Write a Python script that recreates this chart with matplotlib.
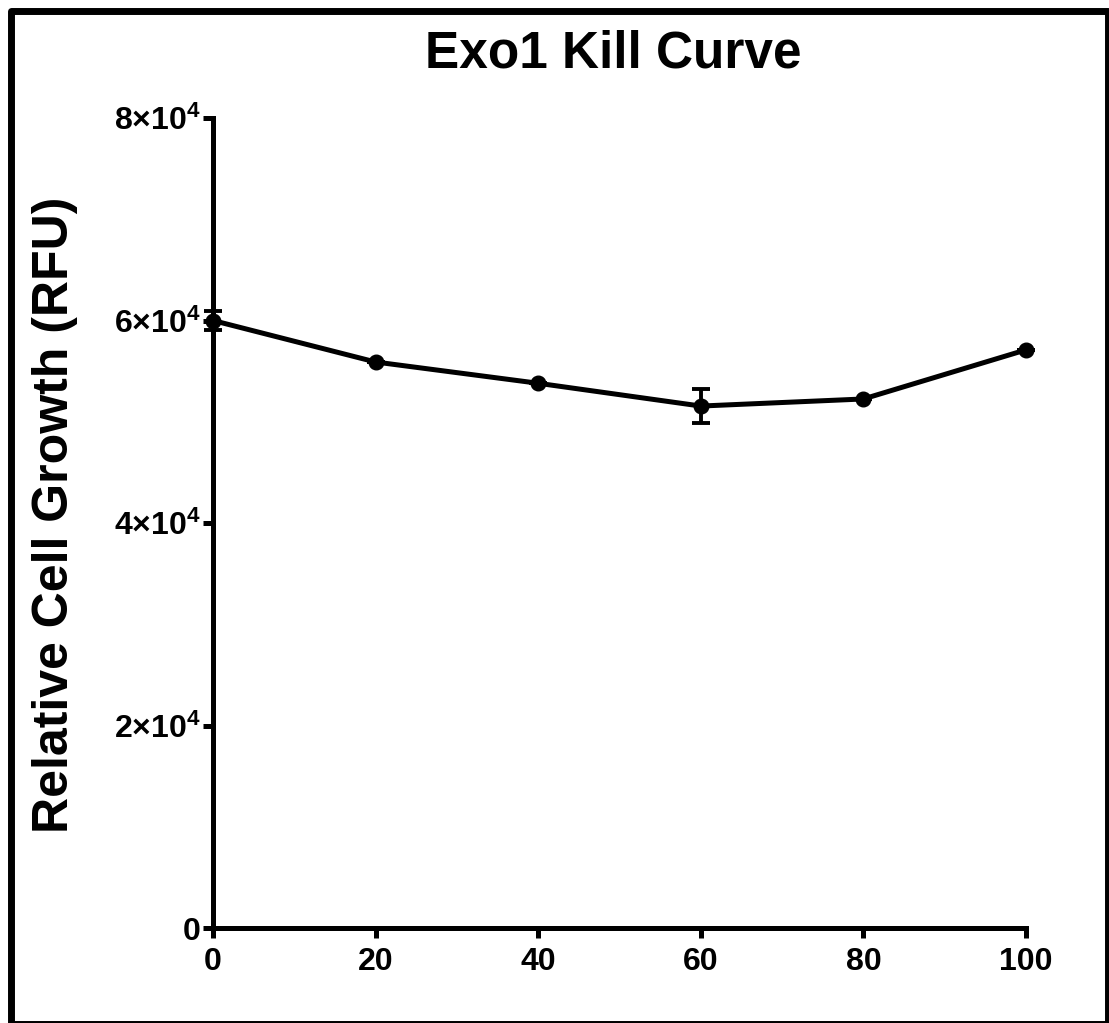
import matplotlib
matplotlib.use("Agg")
import matplotlib.pyplot as plt
from matplotlib.patches import Rectangle

# Exo1 dose series and measured fluorescence
dose = [0, 20, 40, 60, 80, 100]
rfu = [60000, 55900, 53800, 51550, 52250, 57100]
rfu_sem = [950, 0, 0, 1650, 0, 0]

xticks = [0, 20, 40, 60, 80, 100]
yticks = [0, 20000, 40000, 60000, 80000]
ytick_labels = ["0", r"$\mathbf{2{\times}10^{4}}$", r"$\mathbf{4{\times}10^{4}}$",
                r"$\mathbf{6{\times}10^{4}}$", r"$\mathbf{8{\times}10^{4}}$"]

plt.rcParams["font.family"] = ["Liberation Sans", "DejaVu Sans"]
plt.rcParams["font.weight"] = "bold"
plt.rcParams["mathtext.fontset"] = "custom"
plt.rcParams["mathtext.rm"] = "Liberation Sans:bold"
plt.rcParams["mathtext.bf"] = "Liberation Sans:bold"
plt.rcParams["mathtext.it"] = "Liberation Sans:bold"

W, H = 1109, 1023
fig = plt.figure(figsize=(W / 100, H / 100), dpi=100)
ax = fig.add_axes([213 / W, 1 - 928 / H, (1026 - 213) / W, (928 - 118) / H])

ax.errorbar(dose, rfu, yerr=rfu_sem, color="black", lw=3.6, marker="o",
            markersize=10.5, capsize=6.5, capthick=2.8, elinewidth=2.8,
            clip_on=False, zorder=3)

ax.set_xlim(0, 100)
ax.set_ylim(0, 80000)
ax.set_xticks(xticks)
ax.set_xticklabels([str(v) for v in xticks])
ax.set_yticks(yticks)
ax.set_yticklabels(ytick_labels)

for side in ("top", "right"):
    ax.spines[side].set_visible(False)
for side in ("left", "bottom"):
    ax.spines[side].set_linewidth(3.6)
    ax.spines[side].set_capstyle("projecting")

ax.tick_params(axis="both", direction="out", length=7.5, width=3.6,
               labelsize=23)
ax.tick_params(axis="x", pad=6)
ax.tick_params(axis="y", pad=1.5)
for lab in ax.get_xticklabels() + ax.get_yticklabels():
    lab.set_fontweight("bold")

fig.text(613 / W, 1 - 68 / H, "Exo1 Kill Curve", ha="center", va="baseline",
         fontsize=37, fontweight="bold")
fig.text(32 / W, 1 - 515 / H, "Relative Cell Growth (RFU)", rotation=90,
         ha="left", va="center", fontsize=36, fontweight="bold")

# page frame
fig.patches.append(Rectangle((10.5 / W, -0.5 / H), (1107.5 - 10.5) / W,
                             (1012.5 + 0.5) / H, transform=fig.transFigure,
                             fill=False, edgecolor="black", lw=5.0,
                             joinstyle="round"))

fig.savefig("out.png", dpi=100)
